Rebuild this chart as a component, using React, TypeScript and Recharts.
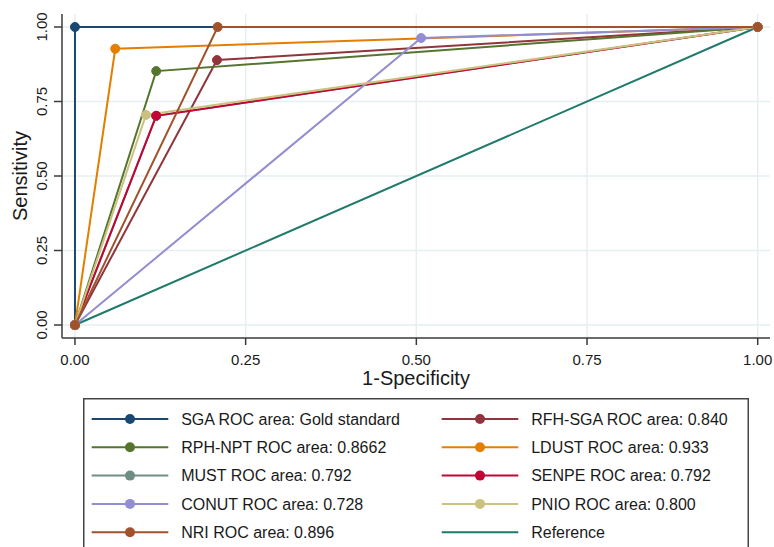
import { CartesianGrid, Legend, Line, LineChart, XAxis, YAxis } from 'recharts'

// ROC points: 1-specificity (x) and sensitivity (y)
const sgaFpr = [0, 0, 1]
const sgaSens = [0, 1, 1]
const rfhSgaFpr = [0, 0.208, 1]
const rfhSgaSens = [0, 0.889, 1]
const rphNptFpr = [0, 0.119, 1]
const rphNptSens = [0, 0.852, 1]
const ldustFpr = [0, 0.059, 1]
const ldustSens = [0, 0.927, 1]
const mustFpr = [0, 0.119, 1]
const mustSens = [0, 0.702, 1]
const senpeFpr = [0, 0.119, 1]
const senpeSens = [0, 0.702, 1]
const conutFpr = [0, 0.507, 1]
const conutSens = [0, 0.963, 1]
const pnioFpr = [0, 0.104, 1]
const pnioSens = [0, 0.705, 1]
const nriFpr = [0, 0.209, 1]
const nriSens = [0, 1, 1]
const refFpr = [0, 1]
const refSens = [0, 1]

const axisTicks = [0, 0.25, 0.5, 0.75, 1]
const xDomain: [number, number] = [-0.019, 1.018]
const yDomain: [number, number] = [-0.0436, 1.0436]

const toPoints = (xs: number[], ys: number[]) => xs.map((x, i) => ({ x, y: ys[i] }))

interface Series {
  label: string
  color: string
  points: { x: number; y: number }[]
  marker: boolean
}

// Stata s2color order, legend fills row by row
const series: Series[] = [
  { label: 'SGA ROC area: Gold standard', color: '#1a476f', points: toPoints(sgaFpr, sgaSens), marker: true },
  { label: 'RFH-SGA ROC area: 0.840', color: '#90353b', points: toPoints(rfhSgaFpr, rfhSgaSens), marker: true },
  { label: 'RPH-NPT ROC area: 0.8662', color: '#55752f', points: toPoints(rphNptFpr, rphNptSens), marker: true },
  { label: 'LDUST ROC area: 0.933', color: '#e37e00', points: toPoints(ldustFpr, ldustSens), marker: true },
  { label: 'MUST ROC area: 0.792', color: '#6e8e84', points: toPoints(mustFpr, mustSens), marker: true },
  { label: 'SENPE ROC area: 0.792', color: '#c10534', points: toPoints(senpeFpr, senpeSens), marker: true },
  { label: 'CONUT ROC area: 0.728', color: '#938dd2', points: toPoints(conutFpr, conutSens), marker: true },
  { label: 'PNIO ROC area: 0.800', color: '#cac27e', points: toPoints(pnioFpr, pnioSens), marker: true },
  { label: 'NRI ROC area: 0.896', color: '#a0522d', points: toPoints(nriFpr, nriSens), marker: true },
  { label: 'Reference', color: '#1f7a6a', points: toPoints(refFpr, refSens), marker: false },
]

const FONT = '"Liberation Sans", Arial, Helvetica, sans-serif'
const TEXT = '#1a1a1a'
const AXIS = '#3a3a3a'
const GRID = '#e5eef1'

// plot box: margins top 14 / right 4, y axis 62 wide, x axis + legend below
const PLOT_TOP = 14
const PLOT_BOTTOM = 338
const PLOT_LEFT = 62
const PLOT_RIGHT = 770

function YTick(props: any) {
  const { x, y, payload } = props
  return (
    <text
      transform={`translate(${x - 5.5},${y}) rotate(-90)`}
      textAnchor="middle"
      fontSize={15}
      fontFamily={FONT}
      fill={TEXT}
    >
      {Number(payload.value).toFixed(2)}
    </text>
  )
}

function RocLegend() {
  const rowY = (row: number) => 21 + row * 28.3
  return (
    <svg width={666} height={160} style={{ display: 'block' }}>
      <rect x={0.75} y={0.75} width={664.5} height={170} fill="#fff" stroke="#444" strokeWidth={1.5} />
      {series.map((s, i) => {
        const col = i % 2
        const row = Math.floor(i / 2)
        const lineX = col === 0 ? 8.7 : 358.7
        const cy = rowY(row)
        return (
          <g key={s.label}>
            <line x1={lineX} x2={lineX + 76.6} y1={cy} y2={cy} stroke={s.color} strokeWidth={2} />
            {s.marker && <circle cx={lineX + 38.3} cy={cy} r={5} fill={s.color} />}
            <text
              x={lineX + 89.5}
              y={cy}
              dy="0.36em"
              fontSize={16}
              fontFamily={FONT}
              fill={TEXT}
            >
              {s.label}
            </text>
          </g>
        )
      })}
    </svg>
  )
}

// grid only at the tick values, not at the padded plot edges
const hGrid = ({ offset }: any) =>
  axisTicks.map((t) => offset.top + (offset.height * (yDomain[1] - t)) / (yDomain[1] - yDomain[0]))
const vGrid = ({ offset }: any) =>
  axisTicks.map((t) => offset.left + (offset.width * (t - xDomain[0])) / (xDomain[1] - xDomain[0]))

const hLine = (props: any) => {
  const { x1, x2, y1, y2 } = props
  if (y1 <= PLOT_TOP + 0.5 || y1 >= PLOT_BOTTOM - 0.5) return <g key={props.key ?? `h${y1}`} />
  return <line key={props.key ?? `h${y1}`} x1={x1} x2={x2} y1={y1} y2={y2} stroke={GRID} strokeWidth={1.5} />
}
const vLine = (props: any) => {
  const { x1, x2, y1, y2 } = props
  if (x1 <= PLOT_LEFT + 0.5 || x1 >= PLOT_RIGHT - 0.5) return <g key={props.key ?? `v${x1}`} />
  return <line key={props.key ?? `v${x1}`} x1={x1} x2={x2} y1={y1} y2={y2} stroke={GRID} strokeWidth={1.5} />
}

export default function App() {
  const drawOrder = [series[9], ...series.slice(0, 9)]
  return (
    <div style={{ position: 'absolute', left: 0, top: 0, background: '#fff' }}>
      <LineChart
        width={774}
        height={547}
        margin={{ top: PLOT_TOP, right: 774 - PLOT_RIGHT, left: 0, bottom: 547 - PLOT_BOTTOM - 60 }}
        style={{ fontFamily: FONT }}
      >
        <CartesianGrid
          stroke={GRID}
          strokeWidth={1.5}
          horizontal={hLine}
          vertical={vLine}
          horizontalCoordinatesGenerator={hGrid}
          verticalCoordinatesGenerator={vGrid}
        />
        <XAxis
          dataKey="x"
          type="number"
          domain={xDomain}
          ticks={axisTicks}
          allowDataOverflow
          height={60}
          tickSize={7}
          tickMargin={9}
          tickFormatter={(v: number) => v.toFixed(2)}
          tick={{ fontSize: 15, fill: TEXT, fontFamily: FONT }}
          stroke={AXIS}
          strokeWidth={1.5}
          label={({ viewBox }: any) => (
            <text
              x={viewBox.x + viewBox.width / 2}
              y={viewBox.y + 47}
              textAnchor="middle"
              fontSize={20}
              fontFamily={FONT}
              fill={TEXT}
            >
              1-Specificity
            </text>
          )}
        />
        <YAxis
          type="number"
          domain={yDomain}
          ticks={axisTicks}
          allowDataOverflow
          width={PLOT_LEFT}
          tickSize={8}
          tickMargin={2}
          tick={YTick}
          stroke={AXIS}
          strokeWidth={1.5}
          label={({ viewBox }: any) => (
            <text
              transform={`translate(27,${viewBox.y + viewBox.height / 2}) rotate(-90)`}
              textAnchor="middle"
              fontSize={20}
              fontFamily={FONT}
              fill={TEXT}
            >
              Sensitivity
            </text>
          )}
        />
        {drawOrder.map((s) => (
          <Line
            key={s.label}
            data={s.points}
            dataKey="y"
            name={s.label}
            type="linear"
            stroke={s.color}
            strokeWidth={2}
            dot={s.marker ? { r: 4.5, fill: s.color, stroke: s.color, strokeWidth: 1 } : false}
            activeDot={false}
            isAnimationActive={false}
          />
        ))}
        <Legend
          layout="horizontal"
          verticalAlign="middle"
          align="center"
          wrapperStyle={{ left: 83, top: 398, width: 666, height: 160 }}
          content={() => <RocLegend />}
        />
      </LineChart>
    </div>
  )
}
